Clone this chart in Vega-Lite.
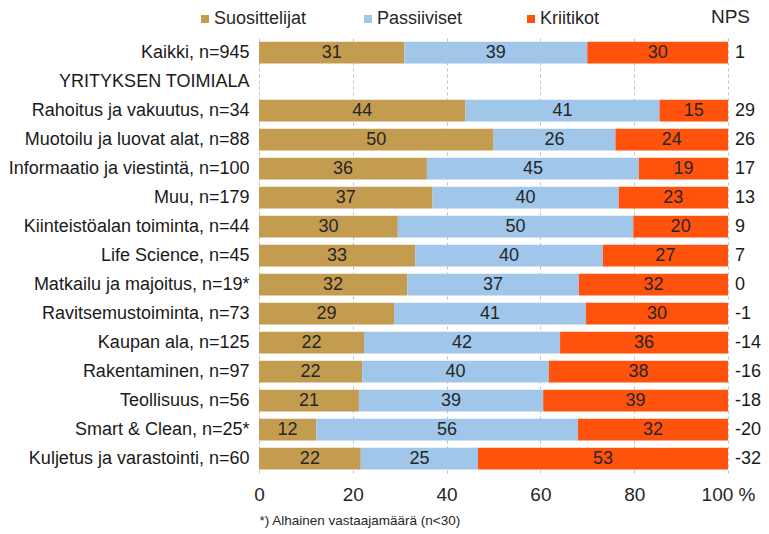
{
  "$schema": "https://vega.github.io/schema/vega-lite/v6.json",
  "width": 469,
  "height": 435,
  "autosize": {"type": "none"},
  "padding": {"left": 259, "top": 38, "right": 41, "bottom": 61},
  "background": "white",
  "config": {"font": "Liberation Sans", "view": {"stroke": null}},
  "title": {"text": "NPS", "anchor": "end", "frame": "group", "dx": 22, "dy": 29, "offset": 12, "fontSize": 19, "fontWeight": "normal", "color": "#262626", "font": "Liberation Sans"},
  "datasets": {
    "shares": [
      {"cat": "Kaikki, n=945", "group": "Suosittelijat", "order": 1, "value": 31},
      {"cat": "Kaikki, n=945", "group": "Passiiviset", "order": 2, "value": 39},
      {"cat": "Kaikki, n=945", "group": "Kriitikot", "order": 3, "value": 30},
      {"cat": "Rahoitus ja vakuutus, n=34", "group": "Suosittelijat", "order": 1, "value": 44},
      {"cat": "Rahoitus ja vakuutus, n=34", "group": "Passiiviset", "order": 2, "value": 41.4},
      {"cat": "Rahoitus ja vakuutus, n=34", "group": "Kriitikot", "order": 3, "value": 14.6},
      {"cat": "Muotoilu ja luovat alat, n=88", "group": "Suosittelijat", "order": 1, "value": 50},
      {"cat": "Muotoilu ja luovat alat, n=88", "group": "Passiiviset", "order": 2, "value": 26},
      {"cat": "Muotoilu ja luovat alat, n=88", "group": "Kriitikot", "order": 3, "value": 24},
      {"cat": "Informaatio ja viestintä, n=100", "group": "Suosittelijat", "order": 1, "value": 35.8},
      {"cat": "Informaatio ja viestintä, n=100", "group": "Passiiviset", "order": 2, "value": 45.2},
      {"cat": "Informaatio ja viestintä, n=100", "group": "Kriitikot", "order": 3, "value": 19},
      {"cat": "Muu, n=179", "group": "Suosittelijat", "order": 1, "value": 37},
      {"cat": "Muu, n=179", "group": "Passiiviset", "order": 2, "value": 39.7},
      {"cat": "Muu, n=179", "group": "Kriitikot", "order": 3, "value": 23.3},
      {"cat": "Kiinteistöalan toiminta, n=44", "group": "Suosittelijat", "order": 1, "value": 29.6},
      {"cat": "Kiinteistöalan toiminta, n=44", "group": "Passiiviset", "order": 2, "value": 50.2},
      {"cat": "Kiinteistöalan toiminta, n=44", "group": "Kriitikot", "order": 3, "value": 20.2},
      {"cat": "Life Science, n=45", "group": "Suosittelijat", "order": 1, "value": 33.3},
      {"cat": "Life Science, n=45", "group": "Passiiviset", "order": 2, "value": 40},
      {"cat": "Life Science, n=45", "group": "Kriitikot", "order": 3, "value": 26.7},
      {"cat": "Matkailu ja majoitus, n=19*", "group": "Suosittelijat", "order": 1, "value": 31.6},
      {"cat": "Matkailu ja majoitus, n=19*", "group": "Passiiviset", "order": 2, "value": 36.6},
      {"cat": "Matkailu ja majoitus, n=19*", "group": "Kriitikot", "order": 3, "value": 31.8},
      {"cat": "Ravitsemustoiminta, n=73", "group": "Suosittelijat", "order": 1, "value": 28.8},
      {"cat": "Ravitsemustoiminta, n=73", "group": "Passiiviset", "order": 2, "value": 40.9},
      {"cat": "Ravitsemustoiminta, n=73", "group": "Kriitikot", "order": 3, "value": 30.3},
      {"cat": "Kaupan ala, n=125", "group": "Suosittelijat", "order": 1, "value": 22.4},
      {"cat": "Kaupan ala, n=125", "group": "Passiiviset", "order": 2, "value": 41.8},
      {"cat": "Kaupan ala, n=125", "group": "Kriitikot", "order": 3, "value": 35.8},
      {"cat": "Rakentaminen, n=97", "group": "Suosittelijat", "order": 1, "value": 22},
      {"cat": "Rakentaminen, n=97", "group": "Passiiviset", "order": 2, "value": 39.8},
      {"cat": "Rakentaminen, n=97", "group": "Kriitikot", "order": 3, "value": 38.2},
      {"cat": "Teollisuus, n=56", "group": "Suosittelijat", "order": 1, "value": 21.3},
      {"cat": "Teollisuus, n=56", "group": "Passiiviset", "order": 2, "value": 39.3},
      {"cat": "Teollisuus, n=56", "group": "Kriitikot", "order": 3, "value": 39.4},
      {"cat": "Smart & Clean, n=25*", "group": "Suosittelijat", "order": 1, "value": 12.2},
      {"cat": "Smart & Clean, n=25*", "group": "Passiiviset", "order": 2, "value": 55.8},
      {"cat": "Smart & Clean, n=25*", "group": "Kriitikot", "order": 3, "value": 32},
      {"cat": "Kuljetus ja varastointi, n=60", "group": "Suosittelijat", "order": 1, "value": 21.7},
      {"cat": "Kuljetus ja varastointi, n=60", "group": "Passiiviset", "order": 2, "value": 25},
      {"cat": "Kuljetus ja varastointi, n=60", "group": "Kriitikot", "order": 3, "value": 53.3}
    ],
    "nps": [
      {"cat": "Kaikki, n=945", "nps": "1"},
      {"cat": "Rahoitus ja vakuutus, n=34", "nps": "29"},
      {"cat": "Muotoilu ja luovat alat, n=88", "nps": "26"},
      {"cat": "Informaatio ja viestintä, n=100", "nps": "17"},
      {"cat": "Muu, n=179", "nps": "13"},
      {"cat": "Kiinteistöalan toiminta, n=44", "nps": "9"},
      {"cat": "Life Science, n=45", "nps": "7"},
      {"cat": "Matkailu ja majoitus, n=19*", "nps": "0"},
      {"cat": "Ravitsemustoiminta, n=73", "nps": "-1"},
      {"cat": "Kaupan ala, n=125", "nps": "-14"},
      {"cat": "Rakentaminen, n=97", "nps": "-16"},
      {"cat": "Teollisuus, n=56", "nps": "-18"},
      {"cat": "Smart & Clean, n=25*", "nps": "-20"},
      {"cat": "Kuljetus ja varastointi, n=60", "nps": "-32"}
    ]
  },
  "encoding": {
    "y": {
      "field": "cat",
      "type": "nominal",
      "scale": {
        "domain": [
          "Kaikki, n=945",
          "YRITYKSEN TOIMIALA",
          "Rahoitus ja vakuutus, n=34",
          "Muotoilu ja luovat alat, n=88",
          "Informaatio ja viestintä, n=100",
          "Muu, n=179",
          "Kiinteistöalan toiminta, n=44",
          "Life Science, n=45",
          "Matkailu ja majoitus, n=19*",
          "Ravitsemustoiminta, n=73",
          "Kaupan ala, n=125",
          "Rakentaminen, n=97",
          "Teollisuus, n=56",
          "Smart & Clean, n=25*",
          "Kuljetus ja varastointi, n=60"
        ],
        "paddingInner": 0.25,
        "paddingOuter": 0.125
      },
      "axis": {
        "title": null,
        "ticks": false,
        "domain": false,
        "grid": false,
        "labelFontSize": 18,
        "labelFont": "Liberation Sans",
        "labelLimit": 400,
        "labelColor": "#1a1a1a",
        "labelPadding": 10
      }
    }
  },
  "layer": [
    {
      "data": {"name": "shares"},
      "transform": [
        {"stack": "value", "groupby": ["cat"], "sort": [{"field": "order", "order": "ascending"}], "as": ["x0", "x1"]}
      ],
      "mark": {"type": "bar"},
      "encoding": {
        "x": {
          "field": "x0",
          "type": "quantitative",
          "scale": {"domain": [0, 100], "nice": false},
          "axis": {
            "values": [0, 20, 40, 60, 80, 100],
            "labelExpr": "datum.value == 100 ? '100 %' : datum.label",
            "labelFlush": false,
            "grid": true,
            "gridDash": [3, 3],
            "gridColor": "#c0c0c0",
            "ticks": false,
            "domain": false,
            "labelFontSize": 19,
            "labelFont": "Liberation Sans",
            "labelColor": "#262626",
            "labelPadding": 12,
            "title": "*) Alhainen vastaajamäärä (n<30)",
            "titleFont": "Liberation Sans",
            "titleFontSize": 13.5,
            "titleFontWeight": "normal",
            "titleColor": "#262626",
            "titleAnchor": "start",
            "titlePadding": 9
          }
        },
        "x2": {"field": "x1"},
        "color": {
          "field": "group",
          "type": "nominal",
          "scale": {"domain": ["Suosittelijat", "Passiiviset", "Kriitikot"], "range": ["#C49C50", "#A0C6EA", "#FF530D"]},
          "legend": {
            "orient": "none",
            "legendX": -63,
            "legendY": -28,
            "direction": "horizontal",
            "columns": 3,
            "gridAlign": "all",
            "columnPadding": 52,
            "title": null,
            "symbolType": "square",
            "symbolSize": 64,
            "symbolStrokeWidth": 0,
            "labelFont": "Liberation Sans",
            "labelFontSize": 18,
            "labelOffset": 0,
            "labelColor": "#262626"
          }
        }
      }
    },
    {
      "data": {"name": "shares"},
      "transform": [
        {"stack": "value", "groupby": ["cat"], "sort": [{"field": "order", "order": "ascending"}], "as": ["x0", "x1"]},
        {"calculate": "(datum.x0 + datum.x1) / 2", "as": "mid"}
      ],
      "mark": {"type": "text", "fontSize": 18, "font": "Liberation Sans", "color": "#262626", "align": "center", "baseline": "middle"},
      "encoding": {
        "x": {"field": "mid", "type": "quantitative"},
        "text": {"field": "value", "type": "quantitative", "format": ".0f"}
      }
    },
    {
      "data": {"name": "nps"},
      "mark": {"type": "text", "fontSize": 18, "font": "Liberation Sans", "color": "#1a1a1a", "align": "left", "baseline": "middle", "dx": 7},
      "encoding": {
        "x": {"datum": 100},
        "text": {"field": "nps", "type": "nominal"}
      }
    }
  ]
}
